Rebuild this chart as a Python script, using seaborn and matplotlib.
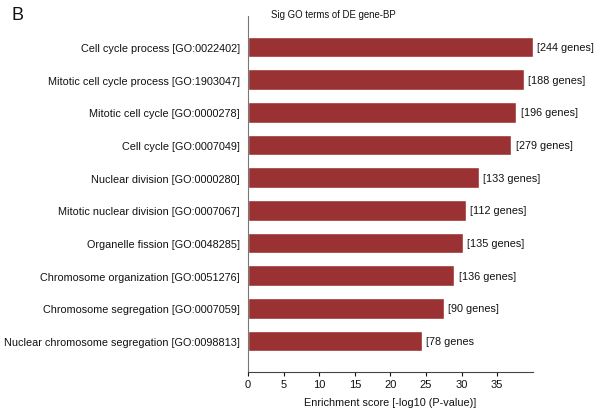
import matplotlib
matplotlib.use("Agg")
import matplotlib.pyplot as plt
import seaborn as sns
import pandas as pd

# GO terms (BP) and their scores
terms = ["Cell cycle process [GO:0022402]",
         "Mitotic cell cycle process [GO:1903047]",
         "Mitotic cell cycle [GO:0000278]",
         "Cell cycle [GO:0007049]",
         "Nuclear division [GO:0000280]",
         "Mitotic nuclear division [GO:0007067]",
         "Organelle fission [GO:0048285]",
         "Chromosome organization [GO:0051276]",
         "Chromosome segregation [GO:0007059]",
         "Nuclear chromosome segregation [GO:0098813]"]
scores = [40.0, 38.7, 37.7, 37.0, 32.4, 30.6, 30.2, 29.0, 27.5, 24.4]
gene_labels = ["[244 genes]", "[188 genes]", "[196 genes]", "[279 genes]",
               "[133 genes]", "[112 genes]", "[135 genes]", "[136 genes]",
               "[90 genes]", "[78 genes"]

sns.set_style("white")
plt.rcParams['font.family'] = ['Liberation Sans', 'DejaVu Sans']
plt.rcParams['text.color'] = '#111111'
plt.rcParams['axes.labelcolor'] = '#111111'
plt.rcParams['xtick.color'] = '#111111'
plt.rcParams['ytick.color'] = '#111111'

df = pd.DataFrame({"term": terms, "score": scores})

fig = plt.figure(figsize=(6.02, 4.14), dpi=100)
ax = fig.add_axes([0.412, 0.099, 0.473, 0.86])
sns.barplot(data=df, x="score", y="term", orient="h", color="#9a3132",
            saturation=1, width=0.63, ax=ax)

for i, (s, lab) in enumerate(zip(scores, gene_labels)):
    ax.text(s + 0.6, i, lab, va="center", ha="left", fontsize=7.8)

ax.set_xlim(0, 40)
ax.set_ylim(9.95, -0.95)
ax.set_xticks(range(0, 40, 5))
ax.tick_params(axis="x", length=3, width=0.8, labelsize=8, pad=2, bottom=True)
ax.tick_params(axis="y", length=0, labelsize=7.8, pad=6)
ax.set_ylabel("")
ax.set_xlabel("Enrichment score [-log10 (P-value)]", fontsize=7.8, labelpad=6)
sns.despine(ax=ax)
ax.spines["left"].set_color("#777777")
ax.spines["bottom"].set_color("#444444")
for sp in ["left", "bottom"]:
    ax.spines[sp].set_linewidth(0.8)

fig.text(0.553, 0.963, "Sig GO terms of DE gene-BP", ha="center", va="center", fontsize=6.9)
fig.text(0.019, 0.962, "B", ha="left", va="center", fontsize=13)

fig.savefig("out.png", dpi=100)
